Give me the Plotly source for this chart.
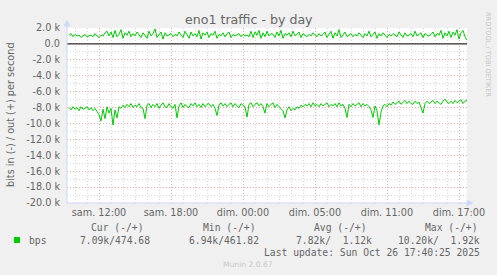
import numpy as np
import plotly.graph_objects as go

# ---- data (values in k bits/s) ----
out_k = [1.1, 1.3, 0.9, 1.2, 1.0, 1.1, 0.8, 1.0, 1.2, 0.9,
         1.0, 1.1, 0.9, 1.3, 1.0, 0.8, 1.1, 1.0, 1.4, 1.6,
         1.0, 1.5, 0.8, 1.7, 0.9, 1.2, 1.8, 0.7, 1.4, 1.1,
         1.6, 0.9, 1.3, 1.0, 1.5, 1.2, 0.8, 1.4, 1.1, 0.7,
         1.6, 1.0, 1.3, 1.9, 0.8, 1.2, 1.5, 0.6, 1.4, 1.0,
         1.1, 1.3, 0.9, 1.2, 1.0, 1.5, 1.1, 0.8, 1.6, 1.2,
         0.7, 1.5, 1.0, 1.3, 0.9, 1.7, 0.6, 1.4, 1.1, 1.5,
         0.8, 1.3, 1.1, 1.6, 0.7, 1.2, 1.0, 1.4, 0.9, 1.3,
         1.5, 0.8, 1.2, 1.0, 1.1, 1.3, 0.9, 1.2, 1.0, 1.1,
         0.9, 1.6, 0.8, 1.5, 1.1, 1.7, 0.7, 1.4, 0.9, 1.6,
         1.0, 1.3, 1.2, 0.8, 1.5, 1.0, 1.7, 0.7, 1.3, 1.1,
         1.4, 0.9, 1.6, 1.0, 1.2, 1.5, 0.8, 1.3, 1.1, 0.9,
         1.2, 1.0, 1.4, 1.1, 0.9, 1.3, 1.0, 1.2, 1.5, 0.8,
         1.3, 1.6, 0.7, 1.4, 1.0, 1.8, 0.8, 1.2, 1.5, 0.9,
         1.1, 1.3, 0.9, 1.2, 1.0, 1.4, 1.1, 0.8, 1.3, 1.0,
         1.6, 0.9, 1.2, 1.5, 0.7, 1.3, 1.0, 1.4, 1.1, 0.8,
         1.2, 1.0, 1.3, 1.1, 0.9, 1.5, 1.2, 0.8, 1.4, 1.0,
         1.1, 1.3, 0.9, 1.6, 1.0, 1.2, 1.4, 0.8, 1.3, 1.1,
         1.0, 1.2, 1.5, 0.9, 1.3, 1.1, 1.7, 0.7, 1.4, 1.0,
         1.6, 0.8, 1.5, 1.1, 1.8, 0.6, 1.4, 1.7, 0.9, 0.47]

in_k = [8.0, 8.3, 7.9, 8.2, 8.0, 8.4, 7.9, 8.2, 8.1, 7.9,
        8.3, 8.0, 8.4, 8.1, 8.5, 8.9, 9.7, 8.2, 9.4, 7.9,
        8.7, 8.1, 10.2, 8.3, 9.3, 7.9, 8.1, 7.7, 8.0, 7.6,
        7.9, 7.5, 8.0, 7.7, 7.9, 7.5, 8.0, 8.1, 9.4, 7.7,
        7.5, 8.0, 7.6, 7.9, 7.5, 8.1, 7.7, 7.4, 7.9, 8.0,
        7.5, 7.9, 8.1, 7.6, 9.3, 7.8, 7.4, 8.0, 7.6, 7.9,
        8.0, 7.5, 7.8, 7.4, 7.9, 7.6, 8.0, 7.5, 7.9, 7.6,
        7.5, 7.9, 7.6, 8.1, 9.0, 7.7, 7.4, 7.8, 7.5, 7.9,
        7.6, 7.4, 7.9, 7.5, 7.8, 8.0, 7.5, 7.7, 7.9, 9.2,
        7.6, 7.4, 7.9, 7.6, 7.4, 7.8, 7.5, 7.9, 8.7, 7.5,
        7.9, 7.6, 7.4, 8.0, 7.6, 7.9, 8.1, 8.4, 9.3, 8.3,
        7.9, 8.4, 8.1, 8.3, 7.9, 8.1, 7.7, 7.9, 7.6, 7.8,
        7.5, 7.9, 7.4, 7.8, 7.6, 7.9, 7.5, 7.8, 7.6, 7.4,
        7.9, 7.6, 7.8, 7.5, 7.9, 7.4, 7.8, 7.6, 8.1, 9.25,
        7.6, 7.9, 7.5, 7.8, 7.6, 7.4, 7.9, 7.5, 7.8, 7.6,
        7.9, 8.3, 9.25, 7.8, 8.4, 10.2, 8.6, 7.8, 7.6, 7.9,
        7.5, 7.7, 7.3, 7.6, 7.4, 7.2, 7.6, 7.3, 7.1, 7.5,
        7.2, 7.5, 7.6, 7.2, 7.5, 7.3, 8.0, 8.7, 7.5, 7.2,
        7.5, 7.3, 7.1, 7.5, 7.2, 7.4, 7.6, 7.2, 6.94, 7.3,
        7.5, 7.2, 7.5, 7.1, 7.4, 7.2, 7.0, 7.5, 7.2, 7.09]

# time axis in hours since Saturday 00:00 (real elapsed time; DST ends Sunday)
t_start = 9.3333
t_end = 42.6667
x_tickvals = [12, 18, 24, 30, 36, 42]
x_ticktext = ["sam. 12:00", "sam. 18:00", "dim. 00:00", "dim. 05:00", "dim. 11:00", "dim. 17:00"]
y_tickvals = [2000, 0, -2000, -4000, -6000, -8000, -10000, -12000, -14000, -16000, -18000, -20000]
y_ticktext = ["2.0 k", "0.0", "-2.0 k", "-4.0 k", "-6.0 k", "-8.0 k", "-10.0 k", "-12.0 k",
              "-14.0 k", "-16.0 k", "-18.0 k", "-20.0 k"]

legend_header = ["Cur (-/+)", "Min (-/+)", "Avg (-/+)", "Max (-/+)"]
legend_values = ["7.09k/474.68", "6.94k/461.82", "7.82k/\u00a0\u00a01.12k", "10.20k/\u00a0\u00a01.92k"]

n = len(out_k)
step = (t_end - t_start) / n
t = t_start + step * (np.arange(n) + 1)
out_v = np.array(out_k) * 1000
in_v = -np.array(in_k) * 1000

W, H = 497, 275
L, R, T, B = 67, 467, 28, 203

def px(x):
    return (x - L) / (R - L)

def py(y):
    return (B - y) / (B - T)

FONT = "DejaVu Sans"
MONO = "DejaVu Sans Mono"
FC = "#666666"
GREEN = "#00CC00"
AXIS = "#CFD6F8"

fig = go.Figure()
fig.add_trace(go.Scatter(x=t, y=in_v, mode="lines", line=dict(color=GREEN, width=1),
                         hoverinfo="skip", showlegend=False))
fig.add_trace(go.Scatter(x=t, y=out_v, mode="lines", line=dict(color=GREEN, width=1),
                         hoverinfo="skip", showlegend=False))

major_grid = "rgba(230,150,150,0.75)"
minor_grid = "#d6d6d6"

fig.update_layout(
    width=W, height=H,
    margin=dict(l=L, r=W - R, t=T, b=H - B, pad=0),
    paper_bgcolor="#F0F0F0", plot_bgcolor="#FFFFFF",
    showlegend=False,
    font=dict(family=FONT, size=9.7, color=FC),
    xaxis=dict(range=[t_start, t_end], tickmode="array", tickvals=x_tickvals, ticktext=x_ticktext,
               showgrid=True, gridcolor=major_grid, griddash="1px,2px", gridwidth=1,
               zeroline=False, showline=False, ticks="", ticklabelstandoff=2,
               tickfont=dict(family=FONT, size=9.7, color=FC),
               minor=dict(tickmode="linear", tick0=0, dtick=1, showgrid=True,
                          gridcolor=minor_grid, griddash="1px,2px", gridwidth=1, ticks=""),
               fixedrange=True),
    yaxis=dict(range=[-20000, 2000], tickmode="array", tickvals=y_tickvals, ticktext=y_ticktext,
               showgrid=True, gridcolor=major_grid, griddash="1px,2px", gridwidth=1,
               zeroline=False, showline=False, ticks="", ticklabelstandoff=6,
               tickfont=dict(family=FONT, size=9.7, color=FC),
               minor=dict(tickmode="linear", tick0=0, dtick=1000, showgrid=True,
                          gridcolor=minor_grid, griddash="1px,2px", gridwidth=1, ticks=""),
               fixedrange=True),
)

shapes = []
# zero rule
shapes.append(dict(type="line", xref="x", yref="y", x0=t_start, x1=t_end, y0=0, y1=0,
                   line=dict(color="#000000", width=1), layer="above"))
# axes with arrows
shapes.append(dict(type="line", xref="paper", yref="paper", x0=px(L), x1=px(L), y0=py(B), y1=py(24),
                   line=dict(color=AXIS, width=1), layer="above"))
shapes.append(dict(type="line", xref="paper", yref="paper", x0=px(L), x1=px(470), y0=py(B), y1=py(B),
                   line=dict(color=AXIS, width=1), layer="above"))
shapes.append(dict(type="path", xref="paper", yref="paper",
                   path=f"M {px(L-3)} {py(26)} L {px(L)} {py(20)} L {px(L+3)} {py(26)} Z",
                   fillcolor=AXIS, line=dict(color=AXIS, width=0.5), layer="above"))
shapes.append(dict(type="path", xref="paper", yref="paper",
                   path=f"M {px(467)} {py(B-3)} L {px(473)} {py(B)} L {px(467)} {py(B+3)} Z",
                   fillcolor=AXIS, line=dict(color=AXIS, width=0.5), layer="above"))
# legend swatch
shapes.append(dict(type="rect", xref="paper", yref="paper", x0=px(14), x1=px(20), y0=py(243), y1=py(237),
                   fillcolor=GREEN, line=dict(width=0)))
fig.update_layout(shapes=shapes)

ann = []
def add_text(text, x, y, xanchor="left", size=9.7, family=MONO, color=FC, angle=0):
    ann.append(dict(text=text, x=px(x), y=py(y), xref="paper", yref="paper",
                    xanchor=xanchor, yanchor="middle", showarrow=False, textangle=angle,
                    font=dict(family=family, size=size, color=color)))

add_text("eno1 traffic - by day", 248.5, 19.5, xanchor="center", size=12.6, family=FONT)
add_text("bits in (-) / out (+) per second", 10, 115, xanchor="center", size=9.7, family=FONT, angle=-90)
add_text("RRDTOOL / TOBI OETIKER", 488, 54, xanchor="center", size=6.6, family=FONT, color="#c4c4c4", angle=90)

for txt, xs in zip(legend_header, [89, 201, 312, 423]):
    add_text(txt, xs, 227.5)
add_text("bps", 27, 240)
for txt, xe in zip(legend_values, [152, 261, 374, 482]):
    add_text(txt, xe, 240, xanchor="right")
add_text("Last update: Sun Oct 26 17:40:25 2025", 482, 252, xanchor="right")
add_text("Munin 2.0.67", 248, 264, xanchor="center", size=7.6, family=FONT, color="#c8c8c8")
fig.update_layout(annotations=ann)

fig.write_html("out.html")
